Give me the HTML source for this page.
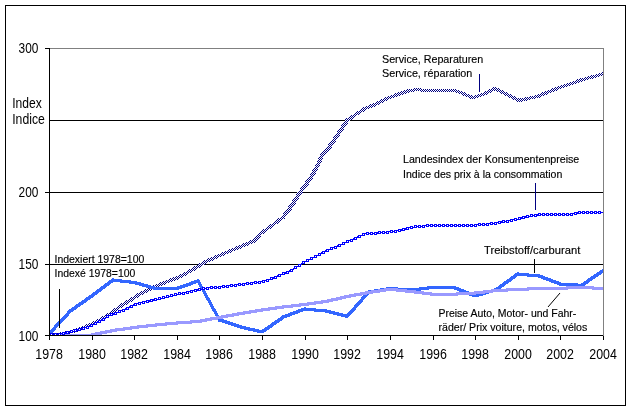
<!DOCTYPE html>
<html><head><meta charset="utf-8"><style>
html,body{margin:0;padding:0;background:#fff;width:632px;height:411px;overflow:hidden;font-family:"Liberation Sans", sans-serif;}
svg{display:block;will-change:transform}
</style></head><body>
<svg width="632" height="411" viewBox="0 0 632 411" shape-rendering="crispEdges">
<defs><pattern id="chk" x="0" y="0" width="2" height="2" patternUnits="userSpaceOnUse"><rect x="0" y="0" width="2" height="2" fill="#fff"/><rect x="0" y="0" width="1" height="1" fill="#000080"/><rect x="1" y="1" width="1" height="1" fill="#000080"/></pattern></defs>
<rect x="0" y="0" width="632" height="411" fill="#fff"/>
<rect x="5.5" y="5.5" width="620" height="400" fill="none" stroke="#000" stroke-width="1"/>
<path d="M49 48.5H603.5V336" fill="none" stroke="#808080" stroke-width="1"/>
<path d="M49 120.5H603" stroke="#000" stroke-width="1"/>
<path d="M49 192.5H603" stroke="#000" stroke-width="1"/>
<path d="M49 264.5H603" stroke="#000" stroke-width="1"/>
<path d="M45 48.5H49" stroke="#000" stroke-width="1"/>
<path d="M45 192.5H49" stroke="#000" stroke-width="1"/>
<path d="M45 264.5H49" stroke="#000" stroke-width="1"/>
<path d="M45 335.5H49" stroke="#000" stroke-width="1"/>
<path d="M49.5 48V340" stroke="#000" stroke-width="1"/>
<path d="M45 335.5H603" stroke="#000" stroke-width="1"/>
<path d="M49.5 336V340" stroke="#000" stroke-width="1"/>
<path d="M92.5 336V340" stroke="#000" stroke-width="1"/>
<path d="M134.5 336V340" stroke="#000" stroke-width="1"/>
<path d="M177.5 336V340" stroke="#000" stroke-width="1"/>
<path d="M219.5 336V340" stroke="#000" stroke-width="1"/>
<path d="M262.5 336V340" stroke="#000" stroke-width="1"/>
<path d="M305.5 336V340" stroke="#000" stroke-width="1"/>
<path d="M347.5 336V340" stroke="#000" stroke-width="1"/>
<path d="M390.5 336V340" stroke="#000" stroke-width="1"/>
<path d="M433.5 336V340" stroke="#000" stroke-width="1"/>
<path d="M475.5 336V340" stroke="#000" stroke-width="1"/>
<path d="M518.5 336V340" stroke="#000" stroke-width="1"/>
<path d="M560.5 336V340" stroke="#000" stroke-width="1"/>
<path d="M603.5 336V340" stroke="#000" stroke-width="1"/>
<path fill="url(#chk)" d="M50 333h9v2h-9zM59 332h5v3h-5zM64 331h2v4h-2zM66 331h3v3h-3zM69 330h2v4h-2zM71 330h2v3h-2zM73 329h2v4h-2zM75 329h1v3h-1zM76 328h2v4h-2zM78 328h1v3h-1zM79 327h2v4h-2zM81 326h2v4h-2zM83 326h1v3h-1zM84 325h2v4h-2zM86 324h2v4h-2zM88 323h2v4h-2zM90 323h1v3h-1zM91 322h2v4h-2zM93 321h2v4h-2zM95 320h2v4h-2zM97 319h2v4h-2zM99 318h2v4h-2zM101 317h1v4h-1zM102 316h1v5h-1zM103 316h1v4h-1zM104 315h2v4h-2zM106 314h1v4h-1zM107 313h1v5h-1zM108 313h1v4h-1zM109 312h1v4h-1zM110 311h1v5h-1zM111 311h1v4h-1zM112 310h1v4h-1zM113 309h1v5h-1zM114 308h1v5h-1zM115 308h1v4h-1zM116 307h1v4h-1zM117 306h1v5h-1zM118 305h1v5h-1zM119 305h1v4h-1zM120 304h1v4h-1zM121 303h1v5h-1zM122 303h1v4h-1zM123 302h2v4h-2zM125 301h1v4h-1zM126 300h1v5h-1zM127 300h1v4h-1zM128 299h2v4h-2zM130 298h1v4h-1zM131 297h1v5h-1zM132 297h1v4h-1zM133 296h1v4h-1zM134 295h1v5h-1zM135 295h1v4h-1zM136 294h1v4h-1zM137 293h1v5h-1zM138 293h1v4h-1zM139 292h2v4h-2zM141 291h2v4h-2zM143 290h2v4h-2zM145 289h2v4h-2zM147 288h2v4h-2zM149 287h2v4h-2zM151 286h2v4h-2zM153 285h2v4h-2zM155 284h2v4h-2zM157 284h1v3h-1zM158 283h2v4h-2zM160 282h2v4h-2zM162 282h1v3h-1zM163 281h2v4h-2zM165 280h2v4h-2zM167 280h1v3h-1zM168 279h2v4h-2zM170 278h2v4h-2zM172 278h1v3h-1zM173 277h2v4h-2zM175 277h1v3h-1zM176 276h2v4h-2zM178 275h2v4h-2zM180 274h2v4h-2zM182 273h2v4h-2zM184 272h2v4h-2zM186 271h1v4h-1zM187 270h1v5h-1zM188 270h1v4h-1zM189 269h2v4h-2zM191 268h2v4h-2zM193 267h1v4h-1zM194 266h1v5h-1zM195 266h1v4h-1zM196 265h2v4h-2zM198 264h1v4h-1zM199 263h1v5h-1zM200 263h1v4h-1zM201 262h2v4h-2zM203 261h1v4h-1zM204 260h1v5h-1zM205 260h1v4h-1zM206 259h2v4h-2zM208 258h2v4h-2zM210 258h1v3h-1zM211 257h2v4h-2zM213 256h2v4h-2zM215 255h2v4h-2zM217 254h2v4h-2zM219 254h1v3h-1zM220 253h2v4h-2zM222 252h2v4h-2zM224 251h2v4h-2zM226 251h1v3h-1zM227 250h2v4h-2zM229 249h2v4h-2zM231 248h2v4h-2zM233 248h1v3h-1zM234 247h2v4h-2zM236 246h2v4h-2zM238 246h1v3h-1zM239 245h2v4h-2zM241 244h2v4h-2zM243 243h2v4h-2zM245 243h1v3h-1zM246 242h2v4h-2zM248 241h2v4h-2zM250 240h2v4h-2zM252 240h1v3h-1zM253 239h1v4h-1zM254 238h1v5h-1zM255 236h1v6h-1zM256 235h1v7h-1zM257 234h1v7h-1zM258 233h1v7h-1zM259 232h1v6h-1zM260 231h1v6h-1zM261 231h1v4h-1zM262 230h1v4h-1zM263 229h1v5h-1zM264 229h1v4h-1zM265 228h1v4h-1zM266 227h1v5h-1zM267 226h1v5h-1zM268 226h1v4h-1zM269 225h1v4h-1zM270 224h1v5h-1zM271 224h1v4h-1zM272 223h1v4h-1zM273 222h1v5h-1zM274 221h1v5h-1zM275 221h1v4h-1zM276 220h1v4h-1zM277 219h1v5h-1zM278 218h1v5h-1zM279 218h1v4h-1zM280 217h1v4h-1zM281 216h1v5h-1zM282 215h1v5h-1zM283 213h1v6h-1zM284 212h1v7h-1zM285 211h1v6h-1zM286 209h1v7h-1zM287 208h1v7h-1zM288 206h1v8h-1zM289 205h1v8h-1zM290 204h1v7h-1zM291 202h1v8h-1zM292 200h1v8h-1zM293 199h1v8h-1zM294 197h1v8h-1zM295 196h1v8h-1zM296 194h1v8h-1zM297 192h1v9h-1zM298 191h1v8h-1zM299 190h1v7h-1zM300 188h1v8h-1zM301 187h1v7h-1zM302 186h1v7h-1zM303 184h1v7h-1zM304 183h1v7h-1zM305 181h1v8h-1zM306 180h1v7h-1zM307 179h1v7h-1zM308 177h1v8h-1zM309 176h1v7h-1zM310 174h1v8h-1zM311 172h1v9h-1zM312 170h1v9h-1zM313 168h1v9h-1zM314 167h1v8h-1zM315 165h1v9h-1zM316 163h1v9h-1zM317 160h1v10h-1zM318 158h1v10h-1zM319 156h1v10h-1zM320 154h1v10h-1zM321 152h1v10h-1zM322 152h1v7h-1zM323 151h1v5h-1zM324 150h1v5h-1zM325 149h1v5h-1zM326 147h1v7h-1zM327 146h1v7h-1zM328 144h1v8h-1zM329 143h1v7h-1zM330 142h1v7h-1zM331 140h1v8h-1zM332 139h1v7h-1zM333 137h1v8h-1zM334 136h1v8h-1zM335 134h1v8h-1zM336 133h1v7h-1zM337 131h1v8h-1zM338 130h1v7h-1zM339 128h1v8h-1zM340 127h1v7h-1zM341 125h1v8h-1zM342 124h1v7h-1zM343 122h1v8h-1zM344 121h1v7h-1zM345 119h1v8h-1zM346 118h1v8h-1zM347 118h1v6h-1zM348 117h1v5h-1zM349 117h1v4h-1zM350 116h1v4h-1zM351 115h1v5h-1zM352 115h1v4h-1zM353 114h1v4h-1zM354 113h1v5h-1zM355 112h1v5h-1zM356 112h1v4h-1zM357 111h2v4h-2zM359 110h1v4h-1zM360 109h1v5h-1zM361 109h1v4h-1zM362 108h1v4h-1zM363 107h1v5h-1zM364 107h1v4h-1zM365 106h2v4h-2zM367 106h1v3h-1zM368 105h2v4h-2zM370 104h2v4h-2zM372 104h1v3h-1zM373 103h2v4h-2zM375 102h2v4h-2zM377 101h2v4h-2zM379 100h2v4h-2zM381 99h2v4h-2zM383 98h2v4h-2zM385 97h2v4h-2zM387 96h2v4h-2zM389 96h1v3h-1zM390 95h2v4h-2zM392 95h1v3h-1zM393 94h2v4h-2zM395 93h2v4h-2zM397 93h1v3h-1zM398 92h2v4h-2zM400 92h1v3h-1zM401 91h2v4h-2zM403 91h1v3h-1zM404 90h2v4h-2zM406 90h1v3h-1zM407 89h2v4h-2zM409 89h4v3h-4zM413 88h2v4h-2zM415 88h5v3h-5zM420 88h2v4h-2zM422 89h33v3h-33zM455 89h2v4h-2zM457 90h1v3h-1zM458 90h2v4h-2zM460 91h1v3h-1zM461 91h2v4h-2zM463 92h2v4h-2zM465 93h2v4h-2zM467 94h1v3h-1zM468 94h2v4h-2zM470 95h2v4h-2zM472 96h2v3h-2zM474 95h2v4h-2zM476 95h1v3h-1zM477 94h2v4h-2zM479 94h1v3h-1zM480 93h2v4h-2zM482 93h1v3h-1zM483 92h2v4h-2zM485 91h2v4h-2zM487 90h2v4h-2zM489 89h2v4h-2zM491 88h2v4h-2zM493 87h4v4h-4zM497 88h2v4h-2zM499 89h2v4h-2zM501 90h2v4h-2zM503 91h2v4h-2zM505 92h2v4h-2zM507 93h2v4h-2zM509 94h2v4h-2zM511 95h2v4h-2zM513 96h2v4h-2zM515 97h2v4h-2zM517 98h2v4h-2zM519 99h1v3h-1zM520 98h2v4h-2zM522 98h3v3h-3zM525 97h2v4h-2zM527 97h2v3h-2zM529 96h2v4h-2zM531 96h3v3h-3zM534 95h2v4h-2zM536 95h2v3h-2zM538 94h2v4h-2zM540 93h2v4h-2zM542 92h2v4h-2zM544 92h1v3h-1zM545 91h2v4h-2zM547 90h2v4h-2zM549 90h1v3h-1zM550 89h2v4h-2zM552 88h2v4h-2zM554 88h1v3h-1zM555 87h2v4h-2zM557 86h2v4h-2zM559 86h1v3h-1zM560 85h2v4h-2zM562 85h1v3h-1zM563 84h2v4h-2zM565 84h1v3h-1zM566 83h2v4h-2zM568 83h1v3h-1zM569 82h2v4h-2zM571 82h1v3h-1zM572 81h2v4h-2zM574 81h1v3h-1zM575 80h2v4h-2zM577 79h2v4h-2zM579 79h1v3h-1zM580 78h2v4h-2zM582 78h2v3h-2zM584 77h2v4h-2zM586 77h1v3h-1zM587 76h2v4h-2zM589 76h2v3h-2zM591 75h2v4h-2zM593 75h2v3h-2zM595 74h2v4h-2zM597 74h1v3h-1zM598 73h2v4h-2zM600 73h2v3h-2zM602 72h1v4h-1z"/>
<path fill="#3366FF" d="M50 330h1v5h-1zM51 329h1v5h-1zM52 328h1v5h-1zM53 327h1v5h-1zM54 325h1v6h-1zM55 324h1v6h-1zM56 323h1v5h-1zM57 322h1v5h-1zM58 321h1v5h-1zM59 320h1v5h-1zM60 319h1v5h-1zM61 318h1v5h-1zM62 317h1v5h-1zM63 316h1v5h-1zM64 315h1v5h-1zM65 314h1v5h-1zM66 313h1v5h-1zM67 311h1v6h-1zM68 310h1v6h-1zM69 309h1v5h-1zM70 309h1v4h-1zM71 308h1v4h-1zM72 307h1v5h-1zM73 307h1v4h-1zM74 306h1v4h-1zM75 305h1v5h-1zM76 304h1v5h-1zM77 304h1v4h-1zM78 303h1v4h-1zM79 302h1v5h-1zM80 302h1v4h-1zM81 301h1v4h-1zM82 300h1v5h-1zM83 300h1v4h-1zM84 299h1v4h-1zM85 298h1v5h-1zM86 297h1v5h-1zM87 297h1v4h-1zM88 296h1v4h-1zM89 295h1v5h-1zM90 295h1v4h-1zM91 294h1v4h-1zM92 293h1v5h-1zM93 292h1v5h-1zM94 292h1v4h-1zM95 291h1v4h-1zM96 290h1v5h-1zM97 289h1v5h-1zM98 289h1v4h-1zM99 288h1v4h-1zM100 287h1v5h-1zM101 286h1v5h-1zM102 286h1v4h-1zM103 285h1v4h-1zM104 284h1v5h-1zM105 283h1v5h-1zM106 283h1v4h-1zM107 282h1v4h-1zM108 281h1v5h-1zM109 280h1v5h-1zM110 280h1v4h-1zM111 279h1v4h-1zM112 278h1v5h-1zM113 278h1v4h-1zM114 279h6v3h-6zM120 279h2v4h-2zM122 280h7v3h-7zM129 280h2v4h-2zM131 281h4v3h-4zM135 281h2v4h-2zM137 282h2v3h-2zM139 282h2v4h-2zM141 283h1v3h-1zM142 283h2v4h-2zM144 284h2v3h-2zM146 284h2v4h-2zM148 285h1v3h-1zM149 285h2v4h-2zM151 286h2v3h-2zM153 286h2v4h-2zM155 287h22v3h-22zM177 286h2v4h-2zM179 286h1v3h-1zM180 285h2v4h-2zM182 285h1v3h-1zM183 284h2v4h-2zM185 284h1v3h-1zM186 283h2v4h-2zM188 283h1v3h-1zM189 282h2v4h-2zM191 281h2v4h-2zM193 281h1v3h-1zM194 280h2v4h-2zM196 280h1v3h-1zM197 279h1v4h-1zM198 279h1v6h-1zM199 280h1v7h-1zM200 282h1v7h-1zM201 284h1v6h-1zM202 286h1v6h-1zM203 287h1v7h-1zM204 289h1v7h-1zM205 291h1v7h-1zM206 293h1v7h-1zM207 295h1v6h-1zM208 297h1v6h-1zM209 298h1v7h-1zM210 300h1v7h-1zM211 302h1v7h-1zM212 304h1v7h-1zM213 306h1v6h-1zM214 308h1v6h-1zM215 309h1v7h-1zM216 311h1v7h-1zM217 313h1v7h-1zM218 315h1v7h-1zM219 317h1v5h-1zM220 319h2v3h-2zM222 319h2v4h-2zM224 320h1v3h-1zM225 320h2v4h-2zM227 321h1v3h-1zM228 321h2v4h-2zM230 322h1v3h-1zM231 322h2v4h-2zM233 323h1v3h-1zM234 323h2v4h-2zM236 324h1v3h-1zM237 324h2v4h-2zM239 325h1v3h-1zM240 325h2v4h-2zM242 326h2v3h-2zM244 326h2v4h-2zM246 327h2v3h-2zM248 327h2v4h-2zM250 328h3v3h-3zM253 328h2v4h-2zM255 329h2v3h-2zM257 329h2v4h-2zM259 330h3v3h-3zM262 329h2v4h-2zM264 328h1v4h-1zM265 327h1v5h-1zM266 327h1v4h-1zM267 326h1v4h-1zM268 325h1v5h-1zM269 325h1v4h-1zM270 324h1v4h-1zM271 323h1v5h-1zM272 322h1v5h-1zM273 322h1v4h-1zM274 321h1v4h-1zM275 320h1v5h-1zM276 320h1v4h-1zM277 319h1v4h-1zM278 318h1v5h-1zM279 318h1v4h-1zM280 317h1v4h-1zM281 316h1v5h-1zM282 315h1v5h-1zM283 315h1v4h-1zM284 315h1v3h-1zM285 314h2v4h-2zM287 314h1v3h-1zM288 313h2v4h-2zM290 312h2v4h-2zM292 312h1v3h-1zM293 311h2v4h-2zM295 311h1v3h-1zM296 310h2v4h-2zM298 309h2v4h-2zM300 309h1v3h-1zM301 308h2v4h-2zM303 308h1v3h-1zM304 307h2v4h-2zM306 308h8v3h-8zM314 308h2v4h-2zM316 309h9v3h-9zM325 309h2v4h-2zM327 310h2v3h-2zM329 310h2v4h-2zM331 311h2v3h-2zM333 311h2v4h-2zM335 312h2v3h-2zM337 312h2v4h-2zM339 313h2v3h-2zM341 313h2v4h-2zM343 314h2v3h-2zM345 314h2v4h-2zM347 313h1v5h-1zM348 312h1v5h-1zM349 311h1v5h-1zM350 310h1v5h-1zM351 309h1v5h-1zM352 308h1v5h-1zM353 307h1v5h-1zM354 305h1v6h-1zM355 304h1v6h-1zM356 303h1v5h-1zM357 302h1v5h-1zM358 301h1v5h-1zM359 300h1v5h-1zM360 299h1v5h-1zM361 297h1v6h-1zM362 296h1v6h-1zM363 295h1v5h-1zM364 294h1v5h-1zM365 293h1v5h-1zM366 292h1v5h-1zM367 291h1v5h-1zM368 290h1v5h-1zM369 290h1v4h-1zM370 290h4v3h-4zM374 289h2v4h-2zM376 289h4v3h-4zM380 288h2v4h-2zM382 288h4v3h-4zM386 287h2v4h-2zM388 287h8v3h-8zM396 287h2v4h-2zM398 288h21v3h-21zM419 287h2v4h-2zM421 287h6v3h-6zM427 286h2v4h-2zM429 286h25v3h-25zM454 286h2v4h-2zM456 287h1v3h-1zM457 287h2v4h-2zM459 288h2v4h-2zM461 289h1v3h-1zM462 289h2v4h-2zM464 290h2v4h-2zM466 291h1v3h-1zM467 291h2v4h-2zM469 292h2v4h-2zM471 293h1v3h-1zM472 293h2v4h-2zM474 294h3v3h-3zM477 293h2v4h-2zM479 293h2v3h-2zM481 292h2v4h-2zM483 292h1v3h-1zM484 291h2v4h-2zM486 291h1v3h-1zM487 290h2v4h-2zM489 290h2v3h-2zM491 289h2v4h-2zM493 289h1v3h-1zM494 288h2v4h-2zM496 287h2v4h-2zM498 286h1v4h-1zM499 285h1v5h-1zM500 284h1v5h-1zM501 284h1v4h-1zM502 283h1v4h-1zM503 282h1v5h-1zM504 281h1v5h-1zM505 281h1v4h-1zM506 280h1v4h-1zM507 279h1v5h-1zM508 279h1v4h-1zM509 278h1v4h-1zM510 277h1v5h-1zM511 276h1v5h-1zM512 276h1v4h-1zM513 275h1v4h-1zM514 274h1v5h-1zM515 273h1v5h-1zM516 273h1v4h-1zM517 272h2v4h-2zM519 273h8v3h-8zM527 273h2v4h-2zM529 274h9v3h-9zM538 274h2v4h-2zM540 275h1v3h-1zM541 275h2v4h-2zM543 276h2v4h-2zM545 277h1v3h-1zM546 277h2v4h-2zM548 278h1v3h-1zM549 278h2v4h-2zM551 279h2v4h-2zM553 280h1v3h-1zM554 280h2v4h-2zM556 281h1v3h-1zM557 281h2v4h-2zM559 282h2v4h-2zM561 283h15v3h-15zM576 283h2v4h-2zM578 284h3v3h-3zM581 283h2v4h-2zM583 282h1v4h-1zM584 281h1v5h-1zM585 281h1v4h-1zM586 280h1v4h-1zM587 279h1v5h-1zM588 278h1v5h-1zM589 278h1v4h-1zM590 277h1v4h-1zM591 276h1v5h-1zM592 276h1v4h-1zM593 275h1v4h-1zM594 274h1v5h-1zM595 274h1v4h-1zM596 273h1v4h-1zM597 272h1v5h-1zM598 272h1v4h-1zM599 271h1v4h-1zM600 270h1v5h-1zM601 270h1v4h-1zM602 269h1v4h-1z"/>
<path fill="#9999FF" d="M50 334h41v1h-41zM91 333h4v2h-4zM95 332h5v3h-5zM100 331h2v4h-2zM102 331h3v3h-3zM105 330h2v4h-2zM107 330h3v3h-3zM110 329h2v4h-2zM112 329h3v3h-3zM115 328h2v4h-2zM117 328h6v3h-6zM123 327h2v4h-2zM125 327h5v3h-5zM130 326h2v4h-2zM132 326h5v3h-5zM137 325h2v4h-2zM139 325h7v3h-7zM146 324h2v4h-2zM148 324h7v3h-7zM155 323h2v4h-2zM157 323h8v3h-8zM165 322h2v4h-2zM167 322h9v3h-9zM176 321h2v4h-2zM178 321h12v3h-12zM190 320h2v4h-2zM192 320h8v3h-8zM200 319h2v4h-2zM202 319h3v3h-3zM205 318h2v4h-2zM207 318h3v3h-3zM210 317h2v4h-2zM212 317h4v3h-4zM216 316h2v4h-2zM218 316h3v3h-3zM221 315h2v4h-2zM223 315h3v3h-3zM226 314h2v4h-2zM228 314h4v3h-4zM232 313h2v4h-2zM234 313h3v3h-3zM237 312h2v4h-2zM239 312h4v3h-4zM243 311h2v4h-2zM245 311h4v3h-4zM249 310h2v4h-2zM251 310h4v3h-4zM255 309h2v4h-2zM257 309h4v3h-4zM261 308h2v4h-2zM263 308h5v3h-5zM268 307h2v4h-2zM270 307h5v3h-5zM275 306h2v4h-2zM277 306h5v3h-5zM282 305h2v4h-2zM284 305h7v3h-7zM291 304h2v4h-2zM293 304h6v3h-6zM299 303h2v4h-2zM301 303h6v3h-6zM307 302h2v4h-2zM309 302h5v3h-5zM314 301h2v4h-2zM316 301h5v3h-5zM321 300h2v4h-2zM323 300h4v3h-4zM327 299h2v4h-2zM329 299h2v3h-2zM331 298h2v4h-2zM333 298h3v3h-3zM336 297h2v4h-2zM338 297h2v3h-2zM340 296h2v4h-2zM342 296h2v3h-2zM344 295h2v4h-2zM346 295h3v3h-3zM349 294h2v4h-2zM351 294h3v3h-3zM354 293h2v4h-2zM356 293h4v3h-4zM360 292h2v4h-2zM362 292h3v3h-3zM365 291h2v4h-2zM367 291h4v3h-4zM371 290h2v4h-2zM373 290h5v3h-5zM378 289h2v4h-2zM380 289h4v3h-4zM384 288h2v4h-2zM386 288h10v3h-10zM396 288h2v4h-2zM398 289h7v3h-7zM405 289h2v4h-2zM407 290h7v3h-7zM414 290h2v4h-2zM416 291h6v3h-6zM422 291h2v4h-2zM424 292h6v3h-6zM430 292h2v4h-2zM432 293h24v3h-24zM456 292h2v4h-2zM458 292h16v3h-16zM474 291h2v4h-2zM476 291h7v3h-7zM483 290h2v4h-2zM485 290h6v3h-6zM491 289h2v4h-2zM493 289h13v3h-13zM506 288h2v4h-2zM508 288h19v3h-19zM527 287h2v4h-2zM529 287h37v3h-37zM566 286h2v4h-2zM568 286h24v3h-24zM592 286h2v4h-2zM594 287h9v3h-9z"/>
<path fill="#0000FF" d="M50 333h1v2h-1zM51 333h1v2h-1zM52 333h1v2h-1zM53 334h1v1h-1zM54 333h1v2h-1zM55 333h1v2h-1zM56 333h1v2h-1zM57 334h1v1h-1zM58 333h1v2h-1zM59 333h1v2h-1zM60 333h1v2h-1zM61 333h1v1h-1zM62 332h1v3h-1zM63 332h1v3h-1zM64 332h1v3h-1zM65 332h1v2h-1zM66 331h1v3h-1zM67 331h1v3h-1zM68 331h1v3h-1zM69 332h1v1h-1zM70 330h1v3h-1zM71 330h1v3h-1zM72 330h1v3h-1zM73 331h1v1h-1zM74 329h1v3h-1zM75 329h1v3h-1zM76 329h1v3h-1zM77 329h1v2h-1zM78 328h1v3h-1zM79 328h1v3h-1zM80 328h1v3h-1zM81 328h1v1h-1zM82 327h1v3h-1zM83 327h1v3h-1zM84 327h1v3h-1zM85 327h1v1h-1zM86 326h1v3h-1zM87 326h1v3h-1zM88 326h1v3h-1zM89 326h1v1h-1zM90 324h1v3h-1zM91 324h1v3h-1zM92 324h1v3h-1zM93 324h1v1h-1zM94 322h1v3h-1zM95 322h1v3h-1zM96 322h1v3h-1zM97 321h1v2h-1zM98 320h1v3h-1zM99 320h1v3h-1zM100 320h1v3h-1zM101 319h1v2h-1zM102 318h1v3h-1zM103 318h1v3h-1zM104 318h1v3h-1zM105 317h1v2h-1zM106 315h1v3h-1zM107 315h1v3h-1zM108 315h1v3h-1zM109 315h1v1h-1zM110 313h1v3h-1zM111 313h1v3h-1zM112 313h1v3h-1zM113 313h1v2h-1zM114 312h1v3h-1zM115 312h1v3h-1zM116 312h1v3h-1zM117 312h1v1h-1zM118 310h1v3h-1zM119 310h1v3h-1zM120 310h1v3h-1zM121 310h1v1h-1zM122 309h1v3h-1zM123 309h1v3h-1zM124 309h1v3h-1zM125 308h1v2h-1zM126 307h1v3h-1zM127 307h1v3h-1zM128 307h1v3h-1zM129 306h1v2h-1zM130 305h1v3h-1zM131 305h1v3h-1zM132 305h1v3h-1zM133 304h1v2h-1zM134 303h1v3h-1zM135 303h1v3h-1zM136 303h1v3h-1zM137 303h1v1h-1zM138 302h1v3h-1zM139 302h1v3h-1zM140 302h1v3h-1zM141 302h1v1h-1zM142 301h1v3h-1zM143 301h1v3h-1zM144 301h1v3h-1zM145 301h1v1h-1zM146 300h1v3h-1zM147 300h1v3h-1zM148 300h1v3h-1zM149 300h1v2h-1zM150 299h1v3h-1zM151 299h1v3h-1zM152 299h1v3h-1zM153 299h1v2h-1zM154 298h1v3h-1zM155 298h1v3h-1zM156 298h1v3h-1zM157 299h1v1h-1zM158 297h1v3h-1zM159 297h1v3h-1zM160 297h1v3h-1zM161 298h1v1h-1zM162 296h1v3h-1zM163 296h1v3h-1zM164 296h1v3h-1zM165 297h1v1h-1zM166 295h1v3h-1zM167 295h1v3h-1zM168 295h1v3h-1zM169 296h1v1h-1zM170 294h1v3h-1zM171 294h1v3h-1zM172 294h1v3h-1zM173 295h1v1h-1zM174 293h1v3h-1zM175 293h1v3h-1zM176 293h1v3h-1zM177 294h1v1h-1zM178 292h1v3h-1zM179 292h1v3h-1zM180 292h1v3h-1zM181 293h1v1h-1zM182 292h1v3h-1zM183 292h1v3h-1zM184 292h1v3h-1zM185 292h1v1h-1zM186 291h1v3h-1zM187 291h1v3h-1zM188 291h1v3h-1zM189 291h1v1h-1zM190 290h1v3h-1zM191 290h1v3h-1zM192 290h1v3h-1zM193 290h1v1h-1zM194 289h1v3h-1zM195 289h1v3h-1zM196 289h1v3h-1zM197 289h1v2h-1zM198 288h1v3h-1zM199 288h1v3h-1zM200 288h1v3h-1zM201 289h1v1h-1zM202 287h1v3h-1zM203 287h1v3h-1zM204 287h1v3h-1zM205 288h1v1h-1zM206 287h1v3h-1zM207 287h1v3h-1zM208 287h1v3h-1zM209 287h1v1h-1zM210 286h1v3h-1zM211 286h1v3h-1zM212 286h1v3h-1zM213 287h1v1h-1zM214 286h1v3h-1zM215 286h1v3h-1zM216 286h1v3h-1zM217 287h1v1h-1zM218 286h1v3h-1zM219 286h1v3h-1zM220 286h1v3h-1zM221 286h1v1h-1zM222 285h1v3h-1zM223 285h1v3h-1zM224 285h1v3h-1zM225 286h1v1h-1zM226 285h1v3h-1zM227 285h1v3h-1zM228 285h1v3h-1zM229 285h1v1h-1zM230 284h1v3h-1zM231 284h1v3h-1zM232 284h1v3h-1zM233 285h1v1h-1zM234 284h1v3h-1zM235 284h1v3h-1zM236 284h1v3h-1zM237 284h1v1h-1zM238 283h1v3h-1zM239 283h1v3h-1zM240 283h1v3h-1zM241 284h1v1h-1zM242 283h1v3h-1zM243 283h1v3h-1zM244 283h1v3h-1zM245 283h1v1h-1zM246 282h1v3h-1zM247 282h1v3h-1zM248 282h1v3h-1zM249 283h1v1h-1zM250 282h1v3h-1zM251 282h1v3h-1zM252 282h1v3h-1zM253 282h1v1h-1zM254 281h1v3h-1zM255 281h1v3h-1zM256 281h1v3h-1zM257 282h1v1h-1zM258 281h1v3h-1zM259 281h1v3h-1zM260 281h1v3h-1zM261 281h1v1h-1zM262 280h1v3h-1zM263 280h1v3h-1zM264 280h1v3h-1zM265 280h1v1h-1zM266 279h1v3h-1zM267 279h1v3h-1zM268 279h1v3h-1zM269 279h1v1h-1zM270 277h1v3h-1zM271 277h1v3h-1zM272 277h1v3h-1zM273 277h1v2h-1zM274 276h1v3h-1zM275 276h1v3h-1zM276 276h1v3h-1zM277 275h1v2h-1zM278 274h1v3h-1zM279 274h1v3h-1zM280 274h1v3h-1zM281 274h1v1h-1zM282 272h1v3h-1zM283 272h1v3h-1zM284 272h1v3h-1zM285 272h1v2h-1zM286 271h1v3h-1zM287 271h1v3h-1zM288 271h1v3h-1zM289 270h1v2h-1zM290 269h1v3h-1zM291 269h1v3h-1zM292 269h1v3h-1zM293 268h1v2h-1zM294 266h1v3h-1zM295 266h1v3h-1zM296 266h1v3h-1zM297 266h1v1h-1zM298 264h1v3h-1zM299 264h1v3h-1zM300 264h1v3h-1zM301 263h1v2h-1zM302 261h1v3h-1zM303 261h1v3h-1zM304 261h1v3h-1zM305 261h1v1h-1zM306 259h1v3h-1zM307 259h1v3h-1zM308 259h1v3h-1zM309 259h1v1h-1zM310 257h1v3h-1zM311 257h1v3h-1zM312 257h1v3h-1zM313 257h1v1h-1zM314 255h1v3h-1zM315 255h1v3h-1zM316 255h1v3h-1zM317 255h1v1h-1zM318 253h1v3h-1zM319 253h1v3h-1zM320 253h1v3h-1zM321 252h1v2h-1zM322 251h1v3h-1zM323 251h1v3h-1zM324 251h1v3h-1zM325 250h1v2h-1zM326 249h1v3h-1zM327 249h1v3h-1zM328 249h1v3h-1zM329 249h1v1h-1zM330 247h1v3h-1zM331 247h1v3h-1zM332 247h1v3h-1zM333 247h1v1h-1zM334 246h1v3h-1zM335 246h1v3h-1zM336 246h1v3h-1zM337 245h1v2h-1zM338 244h1v3h-1zM339 244h1v3h-1zM340 244h1v3h-1zM341 244h1v1h-1zM342 242h1v3h-1zM343 242h1v3h-1zM344 242h1v3h-1zM345 242h1v1h-1zM346 240h1v3h-1zM347 240h1v3h-1zM348 240h1v3h-1zM349 240h1v1h-1zM350 239h1v3h-1zM351 239h1v3h-1zM352 239h1v3h-1zM353 238h1v2h-1zM354 237h1v3h-1zM355 237h1v3h-1zM356 237h1v3h-1zM357 236h1v2h-1zM358 235h1v3h-1zM359 235h1v3h-1zM360 235h1v3h-1zM361 235h1v1h-1zM362 233h1v3h-1zM363 233h1v3h-1zM364 233h1v3h-1zM365 233h1v1h-1zM366 232h1v3h-1zM367 232h1v3h-1zM368 232h1v3h-1zM369 233h1v1h-1zM370 232h1v3h-1zM371 232h1v3h-1zM372 232h1v3h-1zM373 233h1v1h-1zM374 232h1v3h-1zM375 232h1v3h-1zM376 232h1v3h-1zM377 232h1v2h-1zM378 231h1v3h-1zM379 231h1v3h-1zM380 231h1v3h-1zM381 232h1v1h-1zM382 231h1v3h-1zM383 231h1v3h-1zM384 231h1v3h-1zM385 232h1v1h-1zM386 231h1v3h-1zM387 231h1v3h-1zM388 231h1v3h-1zM389 231h1v1h-1zM390 230h1v3h-1zM391 230h1v3h-1zM392 230h1v3h-1zM393 231h1v1h-1zM394 230h1v3h-1zM395 230h1v3h-1zM396 230h1v3h-1zM397 230h1v1h-1zM398 229h1v3h-1zM399 229h1v3h-1zM400 229h1v3h-1zM401 229h1v2h-1zM402 228h1v3h-1zM403 228h1v3h-1zM404 228h1v3h-1zM405 228h1v2h-1zM406 227h1v3h-1zM407 227h1v3h-1zM408 227h1v3h-1zM409 227h1v1h-1zM410 226h1v3h-1zM411 226h1v3h-1zM412 226h1v3h-1zM413 227h1v1h-1zM414 225h1v3h-1zM415 225h1v3h-1zM416 225h1v3h-1zM417 226h1v1h-1zM418 225h1v3h-1zM419 225h1v3h-1zM420 225h1v3h-1zM421 226h1v1h-1zM422 225h1v3h-1zM423 225h1v3h-1zM424 225h1v3h-1zM425 225h1v1h-1zM426 224h1v3h-1zM427 224h1v3h-1zM428 224h1v3h-1zM429 225h1v1h-1zM430 224h1v3h-1zM431 224h1v3h-1zM432 224h1v3h-1zM433 225h1v1h-1zM434 224h1v3h-1zM435 224h1v3h-1zM436 224h1v3h-1zM437 225h1v1h-1zM438 224h1v3h-1zM439 224h1v3h-1zM440 224h1v3h-1zM441 225h1v1h-1zM442 224h1v3h-1zM443 224h1v3h-1zM444 224h1v3h-1zM445 225h1v1h-1zM446 224h1v3h-1zM447 224h1v3h-1zM448 224h1v3h-1zM449 225h1v1h-1zM450 224h1v3h-1zM451 224h1v3h-1zM452 224h1v3h-1zM453 225h1v1h-1zM454 224h1v3h-1zM455 224h1v3h-1zM456 224h1v3h-1zM457 225h1v1h-1zM458 224h1v3h-1zM459 224h1v3h-1zM460 224h1v3h-1zM461 225h1v1h-1zM462 224h1v3h-1zM463 224h1v3h-1zM464 224h1v3h-1zM465 225h1v1h-1zM466 224h1v3h-1zM467 224h1v3h-1zM468 224h1v3h-1zM469 225h1v1h-1zM470 224h1v3h-1zM471 224h1v3h-1zM472 224h1v3h-1zM473 225h1v1h-1zM474 224h1v3h-1zM475 224h1v3h-1zM476 224h1v3h-1zM477 224h1v1h-1zM478 223h1v3h-1zM479 223h1v3h-1zM480 223h1v3h-1zM481 224h1v1h-1zM482 223h1v3h-1zM483 223h1v3h-1zM484 223h1v3h-1zM485 224h1v1h-1zM486 223h1v3h-1zM487 223h1v3h-1zM488 223h1v3h-1zM489 223h1v1h-1zM490 222h1v3h-1zM491 222h1v3h-1zM492 222h1v3h-1zM493 223h1v1h-1zM494 222h1v3h-1zM495 222h1v3h-1zM496 222h1v3h-1zM497 222h1v1h-1zM498 221h1v3h-1zM499 221h1v3h-1zM500 221h1v3h-1zM501 221h1v2h-1zM502 220h1v3h-1zM503 220h1v3h-1zM504 220h1v3h-1zM505 221h1v1h-1zM506 220h1v3h-1zM507 220h1v3h-1zM508 220h1v3h-1zM509 220h1v1h-1zM510 219h1v3h-1zM511 219h1v3h-1zM512 219h1v3h-1zM513 219h1v1h-1zM514 218h1v3h-1zM515 218h1v3h-1zM516 218h1v3h-1zM517 219h1v1h-1zM518 217h1v3h-1zM519 217h1v3h-1zM520 217h1v3h-1zM521 217h1v2h-1zM522 216h1v3h-1zM523 216h1v3h-1zM524 216h1v3h-1zM525 216h1v2h-1zM526 215h1v3h-1zM527 215h1v3h-1zM528 215h1v3h-1zM529 216h1v1h-1zM530 214h1v3h-1zM531 214h1v3h-1zM532 214h1v3h-1zM533 215h1v1h-1zM534 214h1v3h-1zM535 214h1v3h-1zM536 214h1v3h-1zM537 214h1v2h-1zM538 213h1v3h-1zM539 213h1v3h-1zM540 213h1v3h-1zM541 214h1v1h-1zM542 213h1v3h-1zM543 213h1v3h-1zM544 213h1v3h-1zM545 214h1v1h-1zM546 213h1v3h-1zM547 213h1v3h-1zM548 213h1v3h-1zM549 214h1v1h-1zM550 213h1v3h-1zM551 213h1v3h-1zM552 213h1v3h-1zM553 214h1v1h-1zM554 213h1v3h-1zM555 213h1v3h-1zM556 213h1v3h-1zM557 214h1v1h-1zM558 213h1v3h-1zM559 213h1v3h-1zM560 213h1v3h-1zM561 214h1v1h-1zM562 213h1v3h-1zM563 213h1v3h-1zM564 213h1v3h-1zM565 214h1v1h-1zM566 213h1v3h-1zM567 213h1v3h-1zM568 213h1v3h-1zM569 214h1v1h-1zM570 213h1v3h-1zM571 213h1v3h-1zM572 213h1v3h-1zM573 213h1v1h-1zM574 212h1v3h-1zM575 212h1v3h-1zM576 212h1v3h-1zM577 212h1v2h-1zM578 211h1v3h-1zM579 211h1v3h-1zM580 211h1v3h-1zM581 212h1v1h-1zM582 211h1v3h-1zM583 211h1v3h-1zM584 211h1v3h-1zM585 212h1v1h-1zM586 211h1v3h-1zM587 211h1v3h-1zM588 211h1v3h-1zM589 212h1v1h-1zM590 211h1v3h-1zM591 211h1v3h-1zM592 211h1v3h-1zM593 212h1v1h-1zM594 211h1v3h-1zM595 211h1v3h-1zM596 211h1v3h-1zM597 212h1v1h-1zM598 211h1v3h-1zM599 211h1v3h-1zM600 211h1v3h-1zM601 212h1v1h-1zM602 212h1v1h-1z"/><path fill="#fff" d="M51 334h1v1h-1zM55 334h1v1h-1zM59 334h1v1h-1zM63 333h1v1h-1zM67 332h1v1h-1zM71 331h1v1h-1zM75 330h1v1h-1zM79 329h1v1h-1zM83 328h1v1h-1zM87 327h1v1h-1zM91 325h1v1h-1zM95 323h1v1h-1zM99 321h1v1h-1zM103 319h1v1h-1zM107 316h1v1h-1zM111 314h1v1h-1zM115 313h1v1h-1zM119 311h1v1h-1zM123 310h1v1h-1zM127 308h1v1h-1zM131 306h1v1h-1zM135 304h1v1h-1zM139 303h1v1h-1zM143 302h1v1h-1zM147 301h1v1h-1zM151 300h1v1h-1zM155 299h1v1h-1zM159 298h1v1h-1zM163 297h1v1h-1zM167 296h1v1h-1zM171 295h1v1h-1zM175 294h1v1h-1zM179 293h1v1h-1zM183 293h1v1h-1zM187 292h1v1h-1zM191 291h1v1h-1zM195 290h1v1h-1zM199 289h1v1h-1zM203 288h1v1h-1zM207 288h1v1h-1zM211 287h1v1h-1zM215 287h1v1h-1zM219 287h1v1h-1zM223 286h1v1h-1zM227 286h1v1h-1zM231 285h1v1h-1zM235 285h1v1h-1zM239 284h1v1h-1zM243 284h1v1h-1zM247 283h1v1h-1zM251 283h1v1h-1zM255 282h1v1h-1zM259 282h1v1h-1zM263 281h1v1h-1zM267 280h1v1h-1zM271 278h1v1h-1zM275 277h1v1h-1zM279 275h1v1h-1zM283 273h1v1h-1zM287 272h1v1h-1zM291 270h1v1h-1zM295 267h1v1h-1zM299 265h1v1h-1zM303 262h1v1h-1zM307 260h1v1h-1zM311 258h1v1h-1zM315 256h1v1h-1zM319 254h1v1h-1zM323 252h1v1h-1zM327 250h1v1h-1zM331 248h1v1h-1zM335 247h1v1h-1zM339 245h1v1h-1zM343 243h1v1h-1zM347 241h1v1h-1zM351 240h1v1h-1zM355 238h1v1h-1zM359 236h1v1h-1zM363 234h1v1h-1zM367 233h1v1h-1zM371 233h1v1h-1zM375 233h1v1h-1zM379 232h1v1h-1zM383 232h1v1h-1zM387 232h1v1h-1zM391 231h1v1h-1zM395 231h1v1h-1zM399 230h1v1h-1zM403 229h1v1h-1zM407 228h1v1h-1zM411 227h1v1h-1zM415 226h1v1h-1zM419 226h1v1h-1zM423 226h1v1h-1zM427 225h1v1h-1zM431 225h1v1h-1zM435 225h1v1h-1zM439 225h1v1h-1zM443 225h1v1h-1zM447 225h1v1h-1zM451 225h1v1h-1zM455 225h1v1h-1zM459 225h1v1h-1zM463 225h1v1h-1zM467 225h1v1h-1zM471 225h1v1h-1zM475 225h1v1h-1zM479 224h1v1h-1zM483 224h1v1h-1zM487 224h1v1h-1zM491 223h1v1h-1zM495 223h1v1h-1zM499 222h1v1h-1zM503 221h1v1h-1zM507 221h1v1h-1zM511 220h1v1h-1zM515 219h1v1h-1zM519 218h1v1h-1zM523 217h1v1h-1zM527 216h1v1h-1zM531 215h1v1h-1zM535 215h1v1h-1zM539 214h1v1h-1zM543 214h1v1h-1zM547 214h1v1h-1zM551 214h1v1h-1zM555 214h1v1h-1zM559 214h1v1h-1zM563 214h1v1h-1zM567 214h1v1h-1zM571 214h1v1h-1zM575 213h1v1h-1zM579 212h1v1h-1zM583 212h1v1h-1zM587 212h1v1h-1zM591 212h1v1h-1zM595 212h1v1h-1zM599 212h1v1h-1z"/>
<path d="M59.5 289V328" stroke="#000" stroke-width="1"/>
<path d="M479.5 74V92" stroke="#000080" stroke-width="1"/>
<path d="M535.5 183V210" stroke="#000080" stroke-width="1"/>
<path d="M534.5 259V273" stroke="#000" stroke-width="1"/>
<path d="M560 293L548 307" stroke="#000" stroke-width="1" shape-rendering="auto"/>
<g font-family='"Liberation Sans", sans-serif' fill="#000" shape-rendering="auto">
<text x="38.4" y="53.0" font-size="14" text-anchor="end" textLength="19.8" lengthAdjust="spacingAndGlyphs">300</text>
<text x="38.4" y="197.0" font-size="14" text-anchor="end" textLength="19.8" lengthAdjust="spacingAndGlyphs">200</text>
<text x="38.4" y="269.0" font-size="14" text-anchor="end" textLength="19.8" lengthAdjust="spacingAndGlyphs">150</text>
<text x="38.4" y="341.0" font-size="14" text-anchor="end" textLength="19.8" lengthAdjust="spacingAndGlyphs">100</text>
<text x="12.2" y="108" font-size="14" textLength="29.6" lengthAdjust="spacingAndGlyphs">Index</text>
<text x="12.2" y="124" font-size="14" textLength="32.6" lengthAdjust="spacingAndGlyphs">Indice</text>
<text x="49.1" y="359" font-size="14" text-anchor="middle" textLength="27.6" lengthAdjust="spacingAndGlyphs">1978</text>
<text x="92.1" y="359" font-size="14" text-anchor="middle" textLength="27.6" lengthAdjust="spacingAndGlyphs">1980</text>
<text x="134.1" y="359" font-size="14" text-anchor="middle" textLength="27.6" lengthAdjust="spacingAndGlyphs">1982</text>
<text x="177.1" y="359" font-size="14" text-anchor="middle" textLength="27.6" lengthAdjust="spacingAndGlyphs">1984</text>
<text x="219.1" y="359" font-size="14" text-anchor="middle" textLength="27.6" lengthAdjust="spacingAndGlyphs">1986</text>
<text x="262.1" y="359" font-size="14" text-anchor="middle" textLength="27.6" lengthAdjust="spacingAndGlyphs">1988</text>
<text x="305.1" y="359" font-size="14" text-anchor="middle" textLength="27.6" lengthAdjust="spacingAndGlyphs">1990</text>
<text x="347.1" y="359" font-size="14" text-anchor="middle" textLength="27.6" lengthAdjust="spacingAndGlyphs">1992</text>
<text x="390.1" y="359" font-size="14" text-anchor="middle" textLength="27.6" lengthAdjust="spacingAndGlyphs">1994</text>
<text x="433.1" y="359" font-size="14" text-anchor="middle" textLength="27.6" lengthAdjust="spacingAndGlyphs">1996</text>
<text x="475.1" y="359" font-size="14" text-anchor="middle" textLength="27.6" lengthAdjust="spacingAndGlyphs">1998</text>
<text x="518.1" y="359" font-size="14" text-anchor="middle" textLength="27.6" lengthAdjust="spacingAndGlyphs">2000</text>
<text x="560.1" y="359" font-size="14" text-anchor="middle" textLength="27.6" lengthAdjust="spacingAndGlyphs">2002</text>
<text x="603.1" y="359" font-size="14" text-anchor="middle" textLength="27.6" lengthAdjust="spacingAndGlyphs">2004</text>
<text x="382.0" y="63.3" font-size="11" stroke="#000" stroke-width="0.15" textLength="101.3" lengthAdjust="spacingAndGlyphs">Service, Reparaturen</text>
<text x="382.0" y="77.3" font-size="11" stroke="#000" stroke-width="0.15" textLength="90.3" lengthAdjust="spacingAndGlyphs">Service, réparation</text>
<text x="403.0" y="163.0" font-size="11" stroke="#000" stroke-width="0.15" textLength="176.3" lengthAdjust="spacingAndGlyphs">Landesindex der Konsumentenpreise</text>
<text x="403.0" y="178.0" font-size="11" stroke="#000" stroke-width="0.15" textLength="159.3" lengthAdjust="spacingAndGlyphs">Indice des prix à la consommation</text>
<text x="484.0" y="254.0" font-size="11" stroke="#000" stroke-width="0.15" textLength="96.3" lengthAdjust="spacingAndGlyphs">Treibstoff/carburant</text>
<text x="54.5" y="262.7" font-size="11" stroke="#000" stroke-width="0.15" textLength="89.8" lengthAdjust="spacingAndGlyphs">Indexiert 1978=100</text>
<text x="54.5" y="277.2" font-size="11" stroke="#000" stroke-width="0.15" textLength="80.8" lengthAdjust="spacingAndGlyphs">Indexé 1978=100</text>
<text x="438.5" y="316.6" font-size="11" stroke="#000" stroke-width="0.15" textLength="137.8" lengthAdjust="spacingAndGlyphs">Preise Auto, Motor- und Fahr-</text>
<text x="438.5" y="331.4" font-size="11" stroke="#000" stroke-width="0.15" textLength="148.8" lengthAdjust="spacingAndGlyphs">räder/ Prix voiture, motos, vélos</text>
</g>
</svg>
</body></html>
